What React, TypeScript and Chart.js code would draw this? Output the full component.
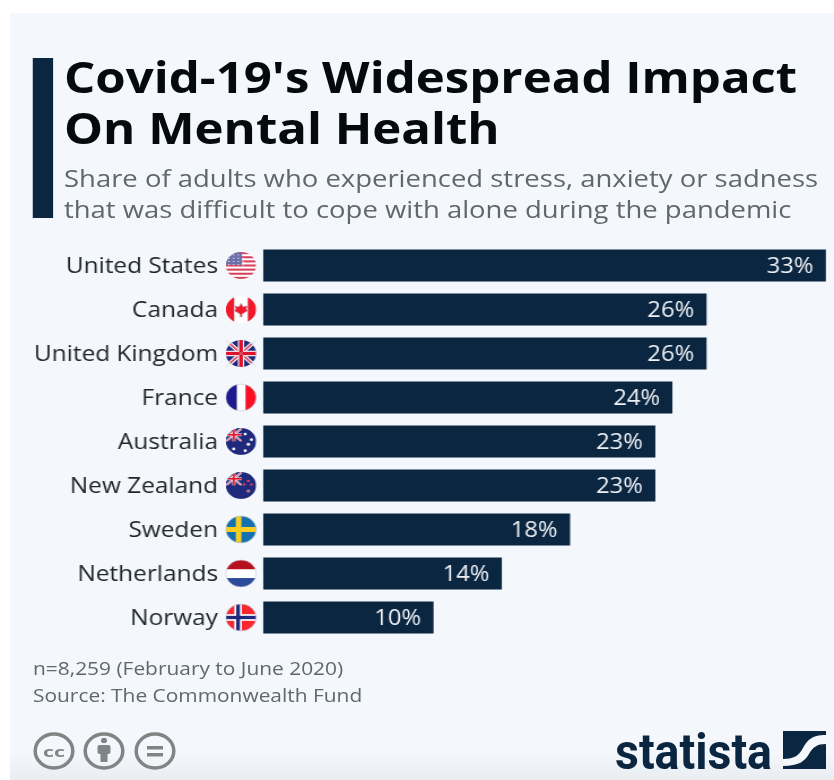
import React, { useEffect, useRef } from "react";
import { Chart, registerables } from "chart.js";

Chart.register(...registerables);

const countries = ["United States", "Canada", "United Kingdom", "France", "Australia", "New Zealand", "Sweden", "Netherlands", "Norway"];
const shares = [33, 26, 26, 24, 23, 23, 18, 14, 10];
const titleLines = ["Covid-19's Widespread Impact", "On Mental Health"];
const subtitleLines = ["Share of adults who experienced stress, anxiety or sadness", "that was difficult to cope with alone during the pandemic"];
const noteLines = ["n=8,259 (February to June 2020)", "Source: The Commonwealth Fund"];

const NAVY = "#0b2641";
const PANEL = "#f4f7fc";
const GREY = "#7f8584";
const FONT = '"Open Sans", "Noto Sans", sans-serif';
// The reference is a horizontally stretched picture: everything is drawn narrow and then widened.
const S = 1.13;

type C = CanvasRenderingContext2D;

function rect(c: C, col: string, x: number, y: number, w: number, h: number) {
  c.fillStyle = col;
  c.fillRect(x, y, w, h);
}

function unionJack(c: C, x: number, y: number, w: number, h: number, thin: number) {
  rect(c, "#1f2a7c", x, y, w, h);
  c.save();
  c.beginPath();
  c.rect(x, y, w, h);
  c.clip();
  c.lineCap = "butt";
  c.strokeStyle = "#fff";
  c.lineWidth = thin * 1.4;
  c.beginPath();
  c.moveTo(x, y); c.lineTo(x + w, y + h);
  c.moveTo(x + w, y); c.lineTo(x, y + h);
  c.stroke();
  c.strokeStyle = "#d8213a";
  c.lineWidth = thin * 0.6;
  c.beginPath();
  c.moveTo(x, y); c.lineTo(x + w, y + h);
  c.moveTo(x + w, y); c.lineTo(x, y + h);
  c.stroke();
  rect(c, "#fff", x + w / 2 - thin, y, thin * 2, h);
  rect(c, "#fff", x, y + h / 2 - thin, w, thin * 2);
  rect(c, "#e0112b", x + w / 2 - thin * 0.6, y, thin * 1.2, h);
  rect(c, "#e0112b", x, y + h / 2 - thin * 0.6, w, thin * 1.2);
  c.restore();
}

function dots(c: C, col: string, pts: number[][], r: number) {
  c.fillStyle = col;
  pts.forEach(([x, y]) => {
    c.beginPath();
    c.arc(x, y, r, 0, Math.PI * 2);
    c.fill();
  });
}

const flagPainters: Record<string, (c: C, x: number, y: number, r: number) => void> = {
  "United States": (c, x, y, r) => {
    rect(c, "#fff", x - r, y - r, r * 2, r * 2);
    for (let i = 0; i < 7; i++) rect(c, "#d5405a", x - r, y - r + i * (r * 2 / 6.5), r * 2, r / 6.5);
    rect(c, "#6a6fa8", x - r, y - r, r * 1.05, r * 0.95);
    for (let i = 0; i < 4; i++) for (let j = 0; j < 4; j++) dots(c, "#d8daea", [[x - r + 3 + i * 4.5, y - r + 3 + j * 3.6]], 0.8);
  },
  Canada: (c, x, y, r) => {
    rect(c, "#fff", x - r, y - r, r * 2, r * 2);
    rect(c, "#f0182c", x - r, y - r, r * 0.55, r * 2);
    rect(c, "#f0182c", x + r * 0.45, y - r, r * 0.55, r * 2);
    c.fillStyle = "#f0182c";
    c.beginPath();
    c.moveTo(x, y - 7); c.lineTo(x + 2, y - 3); c.lineTo(x + 6, y - 4); c.lineTo(x + 5, y);
    c.lineTo(x + 7, y + 1); c.lineTo(x + 1, y + 5); c.lineTo(x + 1, y + 8); c.lineTo(x - 1, y + 8);
    c.lineTo(x - 1, y + 5); c.lineTo(x - 7, y + 1); c.lineTo(x - 5, y); c.lineTo(x - 6, y - 4); c.lineTo(x - 2, y - 3);
    c.closePath();
    c.fill();
  },
  "United Kingdom": (c, x, y, r) => unionJack(c, x - r, y - r, r * 2, r * 2, 3),
  France: (c, x, y, r) => {
    rect(c, "#fff", x - r, y - r, r * 2, r * 2);
    rect(c, "#1c1a8c", x - r, y - r, r * 0.72, r * 2);
    rect(c, "#fb0f24", x + r * 0.3, y - r, r * 0.72, r * 2);
  },
  Australia: (c, x, y, r) => {
    rect(c, "#1f2a7c", x - r, y - r, r * 2, r * 2);
    unionJack(c, x - r, y - r, r * 1.05, r, 1.5);
    dots(c, "#fff", [[x - 7, y + 8], [x + 4, y - 8], [x + 10, y - 2], [x + 4, y + 10], [x + 7, y + 3]], 1.5);
  },
  "New Zealand": (c, x, y, r) => {
    rect(c, "#1f2a7c", x - r, y - r, r * 2, r * 2);
    unionJack(c, x - r, y - r, r * 1.05, r, 1.5);
    dots(c, "#e04060", [[x + 7, y - 5], [x + 3, y - 1], [x + 10, y - 1], [x + 7, y + 6]], 1.3);
  },
  Sweden: (c, x, y, r) => {
    rect(c, "#1471ad", x - r, y - r, r * 2, r * 2);
    rect(c, "#fbcd1e", x - r, y - 2.7, r * 2, 5.4);
    rect(c, "#fbcd1e", x - 5, y - r, 5.4, r * 2);
  },
  Netherlands: (c, x, y, r) => {
    rect(c, "#fff", x - r, y - r, r * 2, r * 2);
    rect(c, "#b80f1e", x - r, y - r, r * 2, r * 0.68);
    rect(c, "#2b4a9c", x - r, y + r * 0.34, r * 2, r * 0.68);
  },
  Norway: (c, x, y, r) => {
    rect(c, "#f9282f", x - r, y - r, r * 2, r * 2);
    rect(c, "#fff", x - r, y - 3.6, r * 2, 7.2);
    rect(c, "#fff", x - 6.4, y - r, 7.2, r * 2);
    rect(c, "#1f2a7c", x - r, y - 1.8, r * 2, 3.6);
    rect(c, "#1f2a7c", x - 4.6, y - r, 3.6, r * 2);
  },
};

const barExtras = {
  id: "barExtras",
  afterDatasetsDraw(chart: any) {
    const c: C = chart.ctx;
    const meta = chart.getDatasetMeta(0);
    meta.data.forEach((bar: any, i: number) => {
      c.save();
      c.fillStyle = "#eef1f5";
      c.font = `21px ${FONT}`;
      c.textAlign = "right";
      c.textBaseline = "middle";
      c.fillText(`${shares[i]}%`, bar.x - 11, bar.y + 1.5);
      c.restore();

      c.save();
      c.translate(241 / S, bar.y);
      c.scale(13.4 / 14.5, 13.4 / 14.5);
      c.beginPath();
      c.arc(0, 0, 14.5, 0, Math.PI * 2);
      c.save();
      c.clip();
      flagPainters[countries[i]](c, 0, 0, 14.5);
      c.restore();
      c.strokeStyle = "rgba(190,195,205,0.8)";
      c.lineWidth = 0.8;
      c.stroke();
      c.restore();
    });
  },
};

const absolute: React.CSSProperties = { position: "absolute", whiteSpace: "nowrap", fontFamily: FONT };

function CcIcon({ cx, children }: { cx: number; children: React.ReactNode }) {
  return (
    <svg style={{ position: "absolute", left: cx - 22, top: 731 }} width={44} height={40} viewBox="0 0 44 40">
      <ellipse cx={22} cy={20} rx={18.8} ry={17} fill="none" stroke={GREY} strokeWidth={3.5} />
      {children}
    </svg>
  );
}

export default function App() {
  const ref = useRef<HTMLCanvasElement>(null);

  useEffect(() => {
    document.body.style.margin = "0";
    const chart = new Chart(ref.current!, {
      type: "bar",
      data: {
        labels: countries,
        datasets: [{
          data: shares,
          backgroundColor: NAVY,
          borderWidth: 0,
          barPercentage: 32 / 44,
          categoryPercentage: 1,
        }],
      },
      options: {
        indexAxis: "y",
        animation: false,
        responsive: false,
        layout: { padding: { left: 0, right: 8 / S, top: 243.5, bottom: 140.5 } },
        plugins: { legend: { display: false }, tooltip: { enabled: false } },
        scales: {
          x: { display: false, min: 0, max: 33 },
          y: {
            afterFit: (s: any) => { s.width = 263 / S; },
            border: { display: false },
            grid: { display: false, drawTicks: false },
            ticks: { color: "#20272b", font: { family: FONT, size: 21.6 }, padding: 45 / S, labelOffset: 1 },
          },
        },
      },
      plugins: [barExtras],
    });
    return () => chart.destroy();
  }, []);

  const W = 834 / S;
  return (
    <div style={{ position: "relative", width: 834, height: 780, background: "#fff", overflow: "hidden", filter: "blur(0.6px)" }}>
      <div style={{ position: "absolute", left: 10, top: 13, width: 824, height: 767, background: `linear-gradient(${PANEL} 96.5%, #e9ecf1 100%)` }} />
      <div style={{ position: "absolute", left: 0, top: 0, width: W, height: 780, transform: `scaleX(${S})`, transformOrigin: "0 0" }}>
        <canvas ref={ref} width={Math.round(W)} height={780} style={{ position: "absolute", left: 0, top: 0 }} />
        <div style={{ position: "absolute", left: 33 / S, top: 58, width: 20 / S, height: 160, background: NAVY }} />
        {titleLines.map((t, i) => (
          <div key={t} style={{ ...absolute, left: 64 / S, top: 51 + i * 51, lineHeight: "51px", fontSize: 43.5, fontWeight: 700, color: "#050a0c" }}>{t}</div>
        ))}
        {subtitleLines.map((t, i) => (
          <div key={t} style={{ ...absolute, left: 64 / S, top: 162 + i * 31, lineHeight: "31px", fontSize: 24.3, color: "#5f686d" }}>{t}</div>
        ))}
        {noteLines.map((t, i) => (
          <div key={t} style={{ ...absolute, left: 33 / S, top: 654 + i * 27, lineHeight: "27px", fontSize: 18.5, color: "#5f686d" }}>{t}</div>
        ))}
      </div>
      <CcIcon cx={54}>
        <text x={22} y={25.5} textAnchor="middle" fontFamily={FONT} fontWeight={700} fontSize={15} textLength={22} lengthAdjust="spacingAndGlyphs" fill={GREY}>cc</text>
      </CcIcon>
      <CcIcon cx={104}>
        <ellipse cx={22} cy={9.5} rx={3} ry={2.7} fill={GREY} />
        <rect x={15.5} y={14} width={13} height={9} rx={2} fill={GREY} />
        <rect x={18.5} y={21} width={7} height={10} fill={GREY} />
      </CcIcon>
      <CcIcon cx={154.5}>
        <rect x={14} y={15} width={16} height={3.5} fill={GREY} />
        <rect x={14} y={22} width={16} height={3.5} fill={GREY} />
      </CcIcon>
      <svg style={{ position: "absolute", left: 610, top: 722 }} width={170} height={56} viewBox="0 0 170 56">
        <text x={5} y={47} fontFamily="Roboto, sans-serif" fontWeight={700} fontSize={50} textLength={157} lengthAdjust="spacingAndGlyphs" fill={NAVY}>statista</text>
      </svg>
      <svg style={{ position: "absolute", left: 783, top: 731 }} width={43} height={38} viewBox="0 0 43 38">
        <rect width={43} height={38} fill={NAVY} />
        <path d="M43 4 C28 4 24 10 20 17 C16 24 12 28 0 28 L0 35 C16 35 22 30 26 23 C30 16 34 13 43 13 Z" fill={PANEL} />
      </svg>
    </div>
  );
}
